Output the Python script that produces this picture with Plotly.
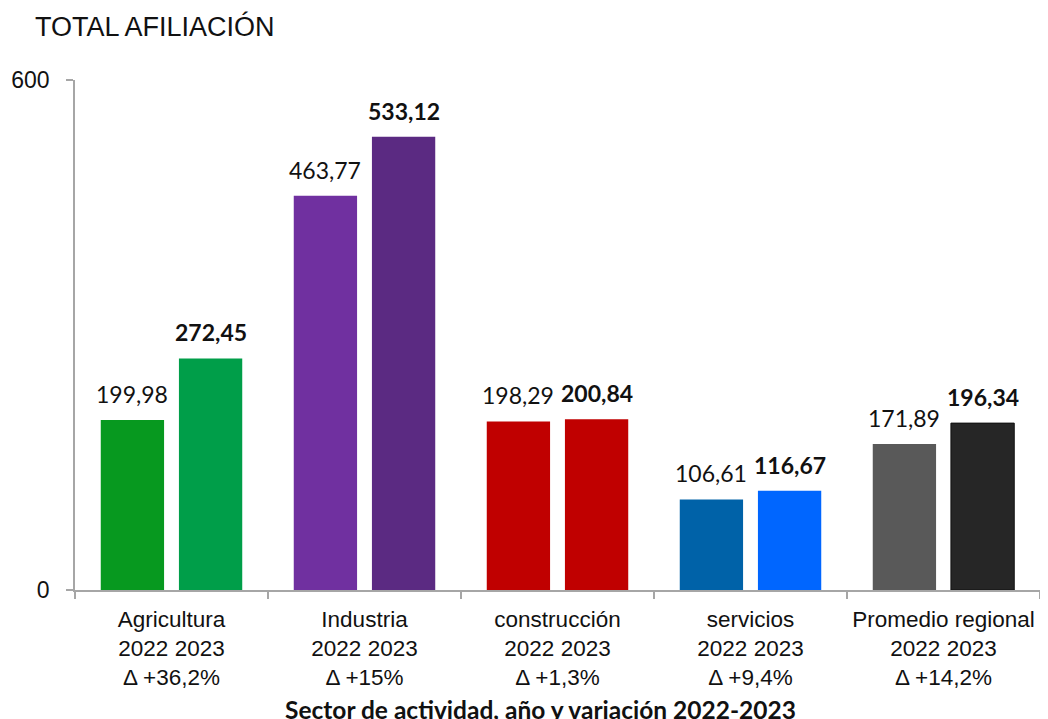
import plotly.graph_objects as go

# datos
sectores = ["Agricultura", "Industria", "construcción", "servicios", "Promedio regional"]
variacion = ["Δ +36,2%", "Δ +15%", "Δ +1,3%", "Δ +9,4%", "Δ +14,2%"]
valores_2022 = [199.98, 463.77, 198.29, 106.61, 171.89]
valores_2023 = [272.45, 533.12, 200.84, 116.67, 196.34]
colores_2022 = ["#07991F", "#7030A0", "#C00000", "#0062A8", "#595959"]
colores_2023 = ["#009E49", "#5B2A82", "#C00000", "#0066FF", "#262626"]

categorias = [f"{s}<br>2022 2023<br>{v}" for s, v in zip(sectores, variacion)]


def fmt(v):
    return f"{v:.2f}".replace(".", ",")


fig = go.Figure()
fig.add_trace(go.Bar(x=categorias, y=valores_2022, marker=dict(color=colores_2022, line=dict(width=0)),
                     name="2022", showlegend=False, hoverinfo="y"))
fig.add_trace(go.Bar(x=categorias, y=valores_2023,
                     marker=dict(color=colores_2023, line=dict(width=[0, 0, 0, 0, 1], color="#111111")),
                     name="2023", showlegend=False, hoverinfo="y"))

bargap = 0.19
groupgap = 0.19
slot = (1 - bargap) / 2
off = slot / 2

arial = "Arial, 'Liberation Sans', sans-serif"
label_font = "Lato, 'Open Sans', sans-serif"
for i, (a, b) in enumerate(zip(valores_2022, valores_2023)):
    fig.add_annotation(x=i - off, y=a, xref="x", yref="y", text=fmt(a), showarrow=False,
                       yanchor="bottom", yshift=10, font=dict(family=label_font, size=23, color="#111111"))
    fig.add_annotation(x=i + off, y=b, xref="x", yref="y", text=f"<b>{fmt(b)}</b>", showarrow=False,
                       yanchor="bottom", yshift=10, font=dict(family=label_font, size=23, color="#111111"))

# the page body has an 8px margin, so everything is placed 8px up/left
fig.add_annotation(x=0.482, y=-0.235, xref="paper", yref="paper",
                   text="<b>Sector de actividad, año y variación 2022-2023</b>", showarrow=False,
                   yanchor="middle", font=dict(family=label_font, size=24.5, color="#111111"))

fig.update_layout(
    width=1048, height=719,
    margin=dict(l=67, r=16, t=72, b=137, autoexpand=False),
    paper_bgcolor="white", plot_bgcolor="white",
    barmode="group", bargap=bargap, bargroupgap=groupgap,
    title=dict(text="TOTAL AFILIACIÓN", x=27 / 1048, xanchor="left", y=1 - 19 / 719, yanchor="middle",
               font=dict(family=arial, size=27, color="#111111")),
    font=dict(family=arial, size=22.5, color="#111111"),
)
fig.update_xaxes(
    type="category", showline=True, linecolor="#A6A6A6", linewidth=1.5, automargin=False,
    ticks="outside", tickson="boundaries", ticklen=7, tickcolor="#A6A6A6", tickwidth=1.5,
    showgrid=False, tickangle=0, ticklabelstandoff=8, tickfont=dict(size=22.5, family=arial),
)
fig.update_yaxes(
    range=[0, 600], tickvals=[0, 600], showline=True, linecolor="#A6A6A6", linewidth=1.5, automargin=False,
    ticks="outside", ticklen=7, tickcolor="#A6A6A6", tickwidth=1.5, showgrid=False, zeroline=False,
    ticklabelstandoff=12, tickfont=dict(size=23, family=arial),
)

fig.write_html("out.html")
